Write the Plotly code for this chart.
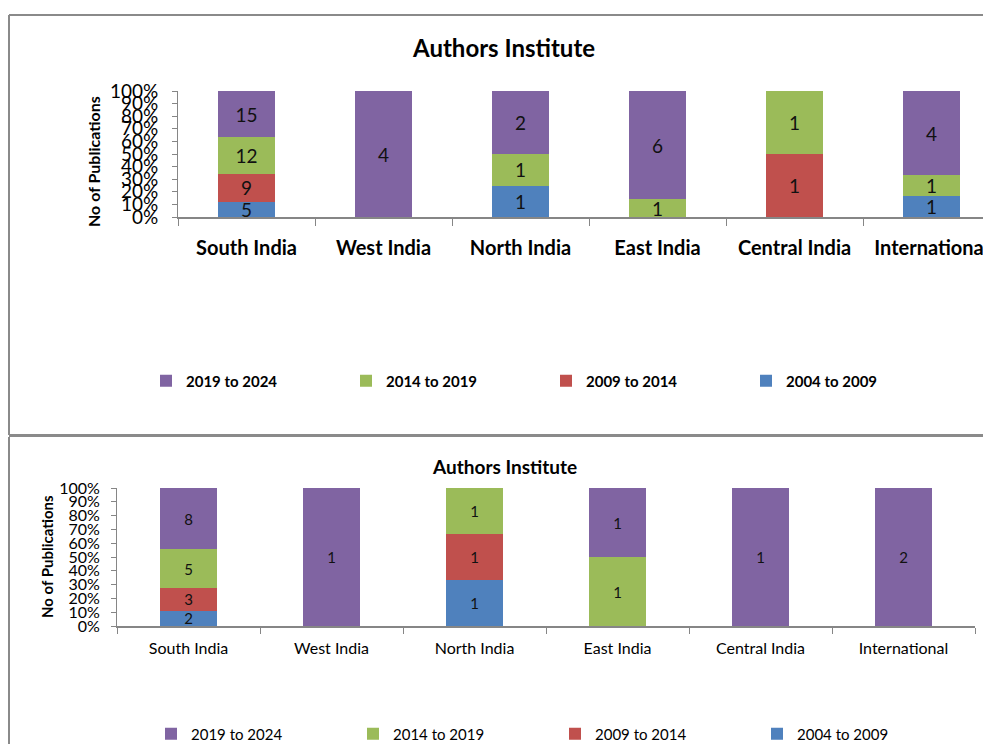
import plotly.graph_objects as go

W, H = 983, 744

regions = ["South India", "West India", "North India", "East India", "Central India", "International"]
periods = ["2004 to 2009", "2009 to 2014", "2014 to 2019", "2019 to 2024"]
colors = ["#4F81BD", "#C0504D", "#9BBB59", "#8064A2"]

# publication counts per period (rows follow `periods`)
top_counts = [
    [5, 0, 1, 0, 0, 1],
    [9, 0, 0, 0, 1, 0],
    [12, 0, 1, 1, 1, 1],
    [15, 4, 2, 6, 0, 4],
]
bottom_counts = [
    [2, 0, 1, 0, 0, 0],
    [3, 0, 1, 0, 0, 0],
    [5, 0, 1, 1, 0, 0],
    [8, 1, 0, 1, 1, 2],
]

y_ticks = list(range(0, 101, 10))

FONT = "Lato"
AXIS_GREY = "#868686"


def px_x(p):
    return p / W


def px_y(p):
    return 1 - p / H


fig = go.Figure()

for counts, xa, ya, leg, size, width in [
    (top_counts, "x", "y", "legend", 19, 0.41),
    (bottom_counts, "x2", "y2", "legend2", 15, 0.40),
]:
    for name, vals, col in zip(periods, counts, colors):
        fig.add_trace(go.Bar(
            x=regions, y=vals, name=name,
            xaxis=xa, yaxis=ya, legend=leg,
            marker=dict(color=col, line=dict(width=0)),
            width=width,
            text=[str(v) if v else "" for v in vals],
            textposition="inside", insidetextanchor="middle",
            constraintext="none", textangle=0,
            textfont=dict(family=FONT, size=size, color="#111111"),
            hoverinfo="skip",
        ))

common_y = dict(
    range=[0, 100], tickmode="array", tickvals=y_ticks,
    ticktext=[f"{t}%" for t in y_ticks], automargin=False,
    showgrid=False, zeroline=False, showline=True, linecolor=AXIS_GREY,
    linewidth=1, ticks="outside", tickcolor=AXIS_GREY, ticklen=5,
)
common_x = dict(
    type="category", showgrid=False, zeroline=False, showline=True, automargin=False,
    linecolor=AXIS_GREY, linewidth=1.5, ticks="outside", tickson="boundaries",
    tickcolor=AXIS_GREY, ticklen=7,
)

fig.update_layout(
    template="none",
    width=W, height=H, margin=dict(l=0, r=0, t=0, b=0, autoexpand=False),
    paper_bgcolor="white", plot_bgcolor="white",
    barmode="stack", barnorm="percent",
    xaxis=dict(common_x, domain=[px_x(178), 1.0], range=[-0.5, 5.5 - 17 / 137],
               anchor="y", tickfont=dict(family=FONT, size=20, color="black", weight="bold"),
               ticklabelstandoff=12),
    yaxis=dict(common_y, domain=[px_y(217), px_y(91)], anchor="x",
               tickfont=dict(family=FONT, size=19, color="black"), ticklabelstandoff=10),
    xaxis2=dict(common_x, domain=[px_x(117), px_x(975)], anchor="y2", ticklen=6,
                tickfont=dict(family=FONT, size=16, color="black"), ticklabelstandoff=7),
    yaxis2=dict(common_y, domain=[px_y(626), px_y(488)], anchor="x2",
                tickfont=dict(family=FONT, size=16, color="black"), ticklabelstandoff=8),
    legend=dict(orientation="h", traceorder="reversed", x=px_x(146), xanchor="left",
                y=px_y(381), yanchor="middle", entrywidth=155, entrywidthmode="pixels",
                font=dict(family=FONT, size=15, color="black", weight="bold"),
                bgcolor="rgba(0,0,0,0)"),
    legend2=dict(orientation="h", traceorder="reversed", x=px_x(151), xanchor="left",
                 y=px_y(734), yanchor="middle", entrywidth=157, entrywidthmode="pixels",
                 font=dict(family=FONT, size=15, color="black"),
                 bgcolor="rgba(0,0,0,0)"),
    showlegend=True,
)

# chart titles and axis titles
ann = dict(xref="paper", yref="paper", showarrow=False, xanchor="center", yanchor="middle")
fig.add_annotation(ann, text="<b>Authors Institute</b>", x=px_x(503), y=px_y(48),
                   font=dict(family=FONT, size=24, color="black"))
fig.add_annotation(ann, text="<b>Authors Institute</b>", x=px_x(504), y=px_y(466),
                   font=dict(family=FONT, size=19, color="black"))
fig.add_annotation(ann, text="<b>No of Publications</b>", x=px_x(93), y=px_y(162),
                   textangle=-90, font=dict(family=FONT, size=16, color="black"))
fig.add_annotation(ann, text="<b>No of Publications</b>", x=px_x(47), y=px_y(557),
                   textangle=-90, font=dict(family=FONT, size=15, color="black"))

# frames around the two chart areas
frame = dict(type="line", xref="paper", yref="paper", line=dict(color="#8A8A8A", width=2))
fig.add_shape(frame, x0=px_x(9), x1=px_x(9), y0=px_y(435), y1=px_y(15))
fig.add_shape(frame, x0=px_x(9), x1=1.0, y0=px_y(15), y1=px_y(15))
fig.add_shape(dict(frame, line=dict(color="#8A8A8A", width=3)),
              x0=px_x(9), x1=1.0, y0=px_y(435.5), y1=px_y(435.5))
fig.add_shape(frame, x0=px_x(9), x1=px_x(9), y0=px_y(437), y1=0)

fig.write_html("out.html")
